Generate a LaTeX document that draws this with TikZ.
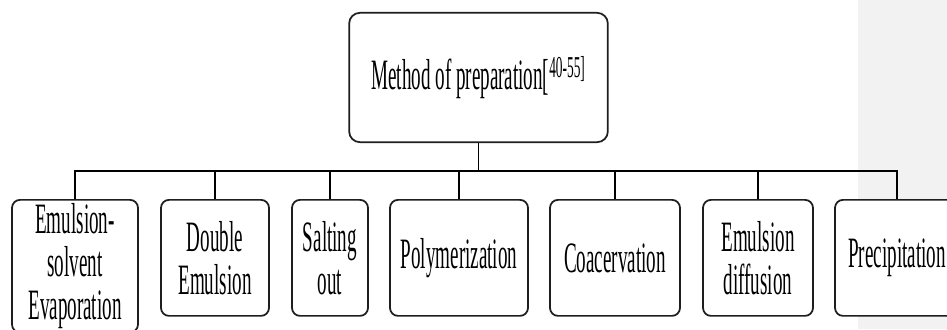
\documentclass[tikz,border=0pt]{standalone}
\usepackage{fontspec}
\setmainfont[FakeStretch=0.44]{Liberation Serif}
\usetikzlibrary{positioning}
\definecolor{Panel}{RGB}{242,242,242}
\definecolor{Edge}{RGB}{30,30,30}
\tikzset{
  methodbox/.style={draw=Edge,line width=1.3pt,rounded corners=6pt,fill=white,align=center,inner sep=2pt,font=\fontsize{32.5}{32}\selectfont},
  rootbox/.style={methodbox,rounded corners=8pt,minimum width=194pt,minimum height=97pt},
  leafbox/.style={methodbox,anchor=north,minimum height=87pt},
  branch/.style={draw=black,line width=1.3pt}
}

\begin{document}
\begin{tikzpicture}[x=0.75pt,y=-0.75pt]
\useasboundingbox (0,0) rectangle (947,329);
\clip (0,0) rectangle (947,329);
\fill[Panel] (858,0) rectangle (947,329);
\node[rootbox] (method) at (478.5,77.5) {Method of preparation[\textsuperscript{40-55]}};
\node[leafbox,minimum width=94.5pt,inner ysep=3pt] (evap) at (75,199) {Emulsion-\\solvent\\Evaporation};
\node[leafbox,minimum width=81pt] (double) at (215,199) {Double\\Emulsion};
\node[leafbox,minimum width=57pt] (salting) at (330,199) {Salting\\out};
\node[leafbox,minimum width=103.5pt] (poly) at (459,199) {Polymerization};
\node[leafbox,minimum width=97.5pt] (coacerv) at (615,199) {Coacervation};
\node[leafbox,minimum width=82.5pt] (diffusion) at (758,199) {Emulsion\\diffusion};
\node[leafbox,minimum width=93pt] (precip) at (897,199) {Precipitation};
\coordinate (bus) at (479,171);
\draw[branch] (method.south) -- (method.south |- bus);
\draw[branch] (evap.north) |- (bus) -| (precip.north);
\foreach \leaf in {double,salting,poly,coacerv,diffusion} \draw[branch] (\leaf.north) -- (\leaf.north |- bus);
\end{tikzpicture}
\end{document}
